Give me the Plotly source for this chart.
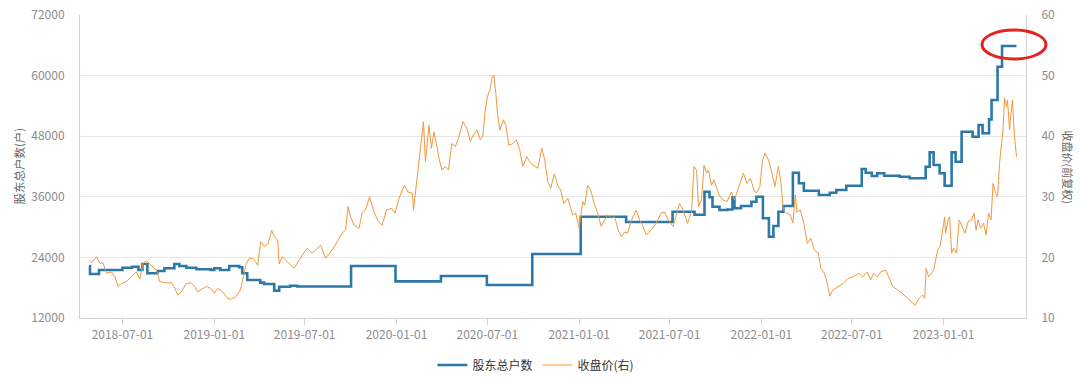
import plotly.graph_objects as go

# ---- 股东总户数 (step series) ----
holder_dates = [
    "2018-04-25", "2018-04-27", "2018-05-15", "2018-07-01", "2018-07-20", "2018-08-02",
    "2018-08-10", "2018-08-20", "2018-09-09", "2018-09-23", "2018-10-13", "2018-10-23",
    "2018-11-06", "2018-11-26", "2018-12-25", "2019-01-01", "2019-01-13", "2019-01-31",
    "2019-02-20", "2019-02-26", "2019-03-08", "2019-04-03", "2019-04-11", "2019-05-01",
    "2019-05-11", "2019-06-02", "2019-06-16", "2019-10-02", "2019-12-30", "2020-03-30",
    "2020-06-30", "2020-09-29", "2021-01-04", "2021-04-05", "2021-07-07", "2021-08-20",
    "2021-09-09", "2021-09-19", "2021-09-25", "2021-10-09", "2021-10-25", "2021-11-04",
    "2021-11-08", "2021-11-21", "2021-12-12", "2021-12-22", "2022-01-04", "2022-01-16",
    "2022-01-25", "2022-02-04", "2022-02-14", "2022-03-05", "2022-03-17", "2022-03-27",
    "2022-04-26", "2022-05-18", "2022-05-31", "2022-06-20", "2022-07-21", "2022-07-29",
    "2022-08-10", "2022-08-21", "2022-09-04", "2022-10-05", "2022-10-25", "2022-11-26",
    "2022-12-04", "2022-12-12", "2022-12-24", "2023-01-03", "2023-01-17", "2023-01-25",
    "2023-02-06", "2023-02-28", "2023-03-12", "2023-03-20", "2023-04-02", "2023-04-07",
    "2023-04-19", "2023-04-28", "2023-05-27",
]
holder_counts = [
    22300, 20710, 21500, 21960, 22160, 21500,
    22700, 20850, 21300, 21840, 22700, 22300,
    21960, 21640, 21500, 21840, 21500, 22300,
    22040, 20850, 19520, 19000, 18730, 17400,
    18200, 18400, 18250, 22300, 19260, 20316,
    18530, 24670, 32060, 31000, 33050, 32450,
    37000, 35900, 34040, 33380, 33500, 35900,
    33720, 34180, 35030, 36000, 31740, 28100,
    30220, 33050, 34180, 40770, 38670, 37200,
    36350, 36800, 37340, 38200, 41500, 40770,
    40120, 40650, 40180, 39980, 39660, 41960,
    44800, 42300, 40650, 38200, 44800, 42950,
    48890, 47900, 50210, 48570, 51340, 55160,
    61760, 65850, 65850,
]

# ---- 收盘价(前复权) ----
price_dates = [
    "2018-04-25", "2018-04-30", "2018-05-10", "2018-05-17", "2018-05-23", "2018-05-30",
    "2018-06-09", "2018-06-16", "2018-06-22", "2018-06-29", "2018-07-09", "2018-07-19",
    "2018-07-29", "2018-08-05", "2018-08-11", "2018-08-18", "2018-08-25", "2018-08-31",
    "2018-09-07", "2018-09-14", "2018-09-24", "2018-10-07", "2018-10-14", "2018-10-20",
    "2018-10-27", "2018-11-06", "2018-11-16", "2018-11-23", "2018-11-29", "2018-12-06",
    "2018-12-16", "2018-12-25", "2019-01-01", "2019-01-08", "2019-01-18", "2019-01-28",
    "2019-02-03", "2019-02-13", "2019-02-22", "2019-02-27", "2019-03-05", "2019-03-12",
    "2019-03-19", "2019-03-29", "2019-04-04", "2019-04-11", "2019-04-19", "2019-04-26",
    "2019-05-01", "2019-05-08", "2019-05-11", "2019-05-17", "2019-05-27", "2019-06-10",
    "2019-06-20", "2019-07-06", "2019-07-16", "2019-08-02", "2019-08-12", "2019-08-25",
    "2019-09-04", "2019-09-14", "2019-09-21", "2019-09-26", "2019-10-01", "2019-10-08",
    "2019-10-18", "2019-10-24", "2019-10-31", "2019-11-08", "2019-11-17", "2019-11-26",
    "2019-12-03", "2019-12-12", "2019-12-22", "2019-12-29", "2020-01-07", "2020-01-17",
    "2020-01-24", "2020-02-02", "2020-02-04", "2020-02-09", "2020-02-15", "2020-02-20",
    "2020-02-24", "2020-02-28", "2020-03-06", "2020-03-11", "2020-03-16", "2020-03-21",
    "2020-03-26", "2020-04-01", "2020-04-08", "2020-04-14", "2020-04-21", "2020-04-28",
    "2020-05-05", "2020-05-13", "2020-05-21", "2020-05-28", "2020-06-03", "2020-06-10",
    "2020-06-17", "2020-06-22", "2020-06-26", "2020-07-01", "2020-07-06", "2020-07-11",
    "2020-07-14", "2020-07-18", "2020-07-21", "2020-07-26", "2020-08-02", "2020-08-07",
    "2020-08-13", "2020-08-21", "2020-08-28", "2020-09-04", "2020-09-10", "2020-09-18",
    "2020-09-26", "2020-10-10", "2020-10-18", "2020-10-24", "2020-10-30", "2020-11-05",
    "2020-11-12", "2020-11-19", "2020-11-25", "2020-12-01", "2020-12-09", "2020-12-19",
    "2020-12-25", "2021-01-01", "2021-01-08", "2021-01-12", "2021-01-18", "2021-01-24",
    "2021-01-31", "2021-02-07", "2021-02-14", "2021-02-21", "2021-02-27", "2021-03-06",
    "2021-03-13", "2021-03-20", "2021-03-27", "2021-04-02", "2021-04-08", "2021-04-16",
    "2021-04-25", "2021-05-02", "2021-05-09", "2021-05-15", "2021-05-25", "2021-06-04",
    "2021-06-14", "2021-06-21", "2021-06-28", "2021-07-08", "2021-07-14", "2021-07-21",
    "2021-07-28", "2021-08-06", "2021-08-14", "2021-08-19", "2021-08-24", "2021-08-28",
    "2021-09-03", "2021-09-08", "2021-09-13", "2021-09-17", "2021-09-23", "2021-09-28",
    "2021-10-08", "2021-10-16", "2021-10-24", "2021-11-02", "2021-11-08", "2021-11-15",
    "2021-11-22", "2021-11-26", "2021-12-03", "2021-12-10", "2021-12-17", "2021-12-22",
    "2021-12-29", "2022-01-03", "2022-01-08", "2022-01-15", "2022-01-21", "2022-01-28",
    "2022-02-04", "2022-02-09", "2022-02-14", "2022-02-21", "2022-02-28", "2022-03-05",
    "2022-03-10", "2022-03-13", "2022-03-20", "2022-03-27", "2022-04-03", "2022-04-10",
    "2022-04-17", "2022-04-25", "2022-04-30", "2022-05-07", "2022-05-13", "2022-05-18",
    "2022-05-24", "2022-06-04", "2022-06-14", "2022-06-24", "2022-07-04", "2022-07-15",
    "2022-07-23", "2022-08-01", "2022-08-08", "2022-08-14", "2022-08-21", "2022-08-28",
    "2022-09-07", "2022-09-14", "2022-09-21", "2022-10-01", "2022-10-10", "2022-10-21",
    "2022-10-28", "2022-11-05", "2022-11-13", "2022-11-20", "2022-11-24", "2022-11-27",
    "2022-12-02", "2022-12-07", "2022-12-12", "2022-12-16", "2022-12-20", "2022-12-25",
    "2022-12-29", "2023-01-03", "2023-01-05", "2023-01-10", "2023-01-13", "2023-01-17",
    "2023-01-21", "2023-01-27", "2023-02-01", "2023-02-06", "2023-02-13", "2023-02-19",
    "2023-02-26", "2023-03-03", "2023-03-07", "2023-03-11", "2023-03-16", "2023-03-22",
    "2023-03-27", "2023-04-01", "2023-04-06", "2023-04-10", "2023-04-15", "2023-04-19",
    "2023-04-23", "2023-04-27", "2023-04-30", "2023-05-03", "2023-05-07", "2023-05-09",
    "2023-05-13", "2023-05-16", "2023-05-19", "2023-05-21", "2023-05-23", "2023-05-27",
]
close_prices = [
    19.45, 19.1, 20.1, 19.0, 19.1, 17.4,
    17.6, 16.8, 15.2, 15.7, 16.0, 16.8,
    17.6, 16.4, 19.0, 19.45, 18.9, 18.5,
    17.9, 16.0, 15.8, 15.8, 14.9, 13.8,
    14.3, 15.7, 15.8, 15.2, 14.3, 14.7,
    15.2, 14.9, 14.1, 14.9, 14.3, 13.25,
    13.1, 13.5, 14.6, 16.3, 18.7, 19.85,
    19.85, 18.7, 22.6, 21.8, 22.3, 24.5,
    23.4, 22.9, 18.9, 20.1, 19.3, 18.2,
    19.6, 21.5, 20.7, 22.0, 19.85, 21.2,
    22.6, 24.0, 24.5, 28.4, 26.7, 25.3,
    24.8, 27.3, 27.8, 30.0, 27.5, 25.9,
    25.3, 27.8, 28.1, 27.3, 30.0, 31.9,
    30.8, 30.6, 27.8, 31.7, 36.1, 39.4,
    42.4, 35.8, 41.8, 38.0, 40.7, 38.8,
    36.4, 34.4, 35.0, 34.4, 38.8, 38.3,
    39.9, 42.4, 41.3, 39.1, 40.2, 41.0,
    39.4, 40.0, 43.8, 46.5, 47.6, 49.8,
    50.1, 47.1, 44.0, 41.0, 42.7, 41.8,
    38.5, 38.8, 39.4, 37.7, 35.0, 36.6,
    35.5, 34.7, 38.0, 36.1, 32.5, 31.4,
    33.8, 31.9, 31.1, 28.9, 29.75, 27.0,
    27.3, 24.8, 29.2, 28.6, 31.9, 31.1,
    28.9, 27.3, 25.1, 26.2, 27.0, 26.45,
    26.7, 24.5, 23.4, 24.2, 24.0, 26.2,
    27.8, 26.2, 25.1, 23.7, 24.5, 25.6,
    27.3, 27.5, 26.2, 25.1, 26.7, 28.9,
    27.8, 25.6, 27.5, 35.0, 34.4, 28.4,
    29.5, 35.2, 33.9, 34.4, 31.9, 32.8,
    30.3, 29.5, 29.2, 30.8, 29.5, 31.1,
    33.05, 33.9, 32.2, 33.05, 31.1, 30.6,
    31.7, 35.8, 37.2, 36.1, 34.4, 31.7,
    35.0, 32.5, 27.8, 27.3, 27.0, 25.7,
    30.3, 27.5, 27.8, 25.6, 22.3, 23.15,
    21.2, 20.7, 18.2, 17.4, 15.7, 13.6,
    14.6, 15.2, 15.7, 16.55, 16.8, 17.4,
    16.8, 17.6, 16.3, 17.4, 16.8, 17.6,
    17.9, 16.55, 15.2, 14.6, 14.1, 13.25,
    12.7, 12.1, 13.25, 13.8, 13.25, 18.2,
    16.8, 17.4, 17.9, 19.6, 21.2, 21.8,
    24.0, 26.7, 24.0, 26.2, 26.7, 20.7,
    21.5, 20.7, 26.2, 25.3, 24.0, 25.9,
    26.2, 27.3, 24.5, 26.2, 24.8, 25.6,
    23.7, 27.3, 26.2, 32.2, 30.6, 30.0,
    35.5, 38.8, 41.0, 46.25, 44.9, 46.0,
    41.0, 43.8, 46.0, 42.7, 39.9, 36.6,
]

left_ticks = [12000, 24000, 36000, 48000, 60000, 72000]
right_ticks = [10, 20, 30, 40, 50, 60]

FONT = "Noto Sans CJK SC"
BLUE = "#2c78a8"
ORANGE = "#f0983c"
GRID = "#e6e6e6"
AXIS = "#d4d4d4"
TICKTXT = "#8c8c8c"

fig = go.Figure()
fig.add_trace(go.Scatter(
    x=holder_dates, y=holder_counts, name="股东总户数", mode="lines",
    line=dict(color=BLUE, width=2.6, shape="hv"), yaxis="y",
))
fig.add_trace(go.Scatter(
    x=price_dates, y=close_prices, name="收盘价(右)", mode="lines",
    line=dict(color=ORANGE, width=1.0), yaxis="y2",
))

fig.update_layout(
    width=1080, height=379,
    margin=dict(l=80, r=54, t=15, b=61, autoexpand=False),
    paper_bgcolor="white", plot_bgcolor="white",
    font=dict(family=FONT, size=12, color=TICKTXT),
    hovermode=False,
    showlegend=True,
    legend=dict(
        orientation="h", x=0.482, xanchor="center", y=-0.155, yanchor="middle",
        font=dict(family=FONT, size=12, color="#333333"),
        itemwidth=30, tracegroupgap=0, bgcolor="rgba(0,0,0,0)",
    ),
    xaxis=dict(
        type="date", range=["2018-04-07", "2023-06-15"],
        tick0="2018-07-01", dtick="M6", tickformat="%Y-%m-%d",
        showgrid=False, showline=True, linecolor=AXIS, linewidth=1,
        ticks="outside", ticklen=6, tickcolor=AXIS,
        tickfont=dict(family=FONT, size=12, color=TICKTXT),
        zeroline=False, automargin=False,
    ),
    yaxis=dict(
        range=[12000, 72000], tickvals=left_ticks, ticktext=[str(v) for v in left_ticks],
        showgrid=True, gridcolor=GRID, gridwidth=1,
        showline=True, linecolor=AXIS, linewidth=1, zeroline=False,
        ticks="", ticklabelstandoff=12, automargin=False,
        tickfont=dict(family=FONT, size=12, color=TICKTXT),
    ),
    yaxis2=dict(
        range=[10, 60], tickvals=right_ticks, overlaying="y", side="right",
        showgrid=False, showline=True, linecolor=AXIS, linewidth=1, zeroline=False,
        ticks="", ticklabelstandoff=12, automargin=False,
        tickfont=dict(family=FONT, size=12, color=TICKTXT),
    ),
    annotations=[
        dict(text="股东总户数(户)", xref="paper", yref="paper", x=-0.0655, y=0.5,
             xanchor="center", yanchor="middle", textangle=-90, showarrow=False,
             font=dict(family=FONT, size=11.5, color="#666666")),
        dict(text="收盘价(前复权)", xref="paper", yref="paper", x=1.0444, y=0.5,
             xanchor="center", yanchor="middle", textangle=90, showarrow=False,
             font=dict(family=FONT, size=11, color="#666666")),
    ],
    shapes=[
        dict(type="circle", xref="paper", yref="paper",
             x0=0.9535, x1=1.0211, y0=0.8548, y1=0.9505,
             line=dict(color="#e3231c", width=3), fillcolor="rgba(0,0,0,0)"),
    ],
)

fig.write_html(
    "out.html",
    config={"displayModeBar": False, "staticPlot": True},
    post_script="document.body.style.margin='0';document.body.style.overflow='hidden';",
)
